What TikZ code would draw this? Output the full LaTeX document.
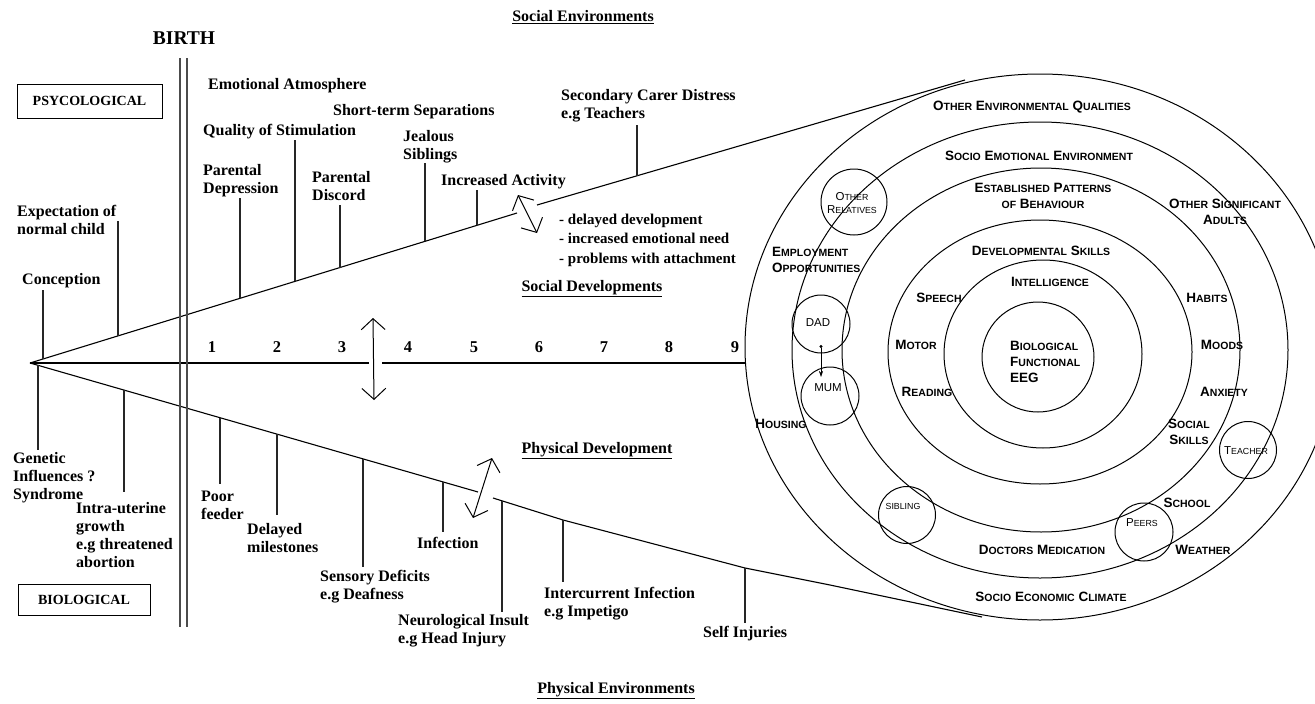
\documentclass[tikz,border=0pt]{standalone}
\usepackage{fontspec}
\setmainfont{Liberation Serif}
\newfontfamily\arialf{Liberation Sans}
\usetikzlibrary{arrows.meta,calc}
\newcommand\sm[1]{{\fontsize{10.5}{12}\selectfont #1}}
\newcommand\ssm[1]{{\fontsize{8.8}{10}\selectfont #1}}
\tikzset{
  lbl/.style={font=\fontsize{16}{18}\selectfont\bfseries, inner sep=0pt, align=left, anchor=west},
  head/.style={font=\fontsize{16}{18}\selectfont\bfseries, inner sep=0pt},
  num/.style={font=\fontsize{16.5}{18}\selectfont\bfseries, inner sep=0pt},
  box/.style={draw, line width=1pt, font=\fontsize{14}{16}\selectfont\bfseries, inner sep=0pt},
  cl/.style={font=\arialf\bfseries\fontsize{13.5}{16}\selectfont, inner sep=0pt, align=center},
  scl/.style={font=\arialf\fontsize{11.5}{13}\selectfont, inner sep=0pt, align=center},
  ln/.style={line width=1.1pt, black},
  tk/.style={line width=1.3pt, black!85},
  ring/.style={line width=1pt, black},
  small/.style={circle, draw, line width=1pt, inner sep=0pt},
  arr/.style={line width=1pt, {Straight Barb[length=11pt,width=24pt]}-{Straight Barb[length=11pt,width=24pt]}},
  birthl/.style={line width=1.6pt, black!70},
}
\begin{document}
\begin{tikzpicture}[x=1pt,y=-1pt]
\fill[white] (0,0) rectangle (1315,704);
\useasboundingbox (0,0) rectangle (1315,704);

% ---------- rings ----------
\begin{scope}
\clip (0,0) rectangle (1315,704);
\draw[ring] (1040,347) ellipse [x radius=295pt, y radius=273pt];
\end{scope}
\draw[ring] (1040,350) ellipse [x radius=248pt, y radius=228pt];
\draw[ring] (1041,350) ellipse [x radius=199pt, y radius=182pt];
\draw[ring] (1040,352) ellipse [x radius=152pt, y radius=132pt];
\draw[ring] (1043,354) ellipse [x radius=99pt, y radius=94pt];
\draw[ring] (1038,357) ellipse [x radius=56pt, y radius=55pt];

% small circles
\node[small, minimum size=66pt] (rel) at (854,202) {};
\node[small, minimum size=58pt] (dad) at (821,324) {};
\node[small, minimum size=58pt] (mum) at (830,396) {};
\node[small, minimum size=57pt] (sib) at (907,515) {};
\node[small, minimum size=57pt] (tea) at (1248,450) {};
\node[small, minimum size=58pt] (pee) at (1144,532) {};
\node[scl] (relt) at (852,203) {O\ssm{THER}\\R\ssm{ELATIVES}};
\node[scl] (dadt) at (818,323) {DAD};
\node[scl] (mumt) at (828,388) {MUM};
\node[scl] (sibt) at (903,506) {\ssm{SIBLING}};
\node[scl] (teat) at (1246,451) {T\ssm{EACHER}};
\node[scl] (peet) at (1142,523) {P\ssm{EERS}};
\coordinate (dm1) at (821,345);
\coordinate (dm2) at (821,377);
\draw[line width=0.6pt, {Circle[length=3pt]}-{Stealth[length=6pt,width=4pt]}] (dm1) -- (dm2);

% ring labels
\node[cl] (oeq) at (1032,107) {O\sm{THER} E\sm{NVIRONMENTAL} Q\sm{UALITIES}};
\node[cl] (see) at (1039,156) {S\sm{OCIO} E\sm{MOTIONAL} E\sm{NVIRONMENT}};
\node[cl] (epb) at (1043,196) {E\sm{STABLISHED} P\sm{ATTERNS}\\\sm{OF} B\sm{EHAVIOUR}};
\node[cl] (ds) at (1041,251) {D\sm{EVELOPMENTAL} S\sm{KILLS}};
\node[cl] (int) at (1050,282) {I\sm{NTELLIGENCE}};
\node[cl] (osa) at (1225,212) {O\sm{THER} S\sm{IGNIFICANT}\\A\sm{DULTS}};
\node[cl, anchor=west, align=left] (emp) at (772,260) {E\sm{MPLOYMENT}\\O\sm{PPORTUNITIES}};
\node[cl] (spe) at (939,298) {S\sm{PEECH}};
\node[cl] (hab) at (1207,298) {H\sm{ABITS}};
\node[cl] (mot) at (916,345) {M\sm{OTOR}};
\node[cl] (moo) at (1222,345) {M\sm{OODS}};
\node[cl, anchor=west, align=left] (bio) at (1010,362) {B\sm{IOLOGICAL}\\F\sm{UNCTIONAL}\\EEG};
\node[cl] (rea) at (927,392) {R\sm{EADING}};
\node[cl] (anx) at (1224,392) {A\sm{NXIETY}};
\node[cl] (hou) at (781,424) {H\sm{OUSING}};
\node[cl] (soc) at (1189,432) {S\sm{OCIAL}\\S\sm{KILLS}};
\node[cl] (sch) at (1187,503) {S\sm{CHOOL}};
\node[cl] (wea) at (1203,550) {W\sm{EATHER}};
\node[cl] (doc) at (1042,550) {D\sm{OCTORS} M\sm{EDICATION}};
\node[cl] (sec) at (1051,597) {S\sm{OCIO} E\sm{CONOMIC} C\sm{LIMATE}};

% ---------- timeline ----------
\coordinate (apex) at (30,363);
\coordinate (ax1) at (369,363);
\coordinate (ax2) at (382,363);
\coordinate (axe) at (745.5,363);
\draw[ln] (apex) -- (ax1);
\draw[ln] (ax2) -- (axe);
\coordinate (up1) at (517,213);
\coordinate (up2) at (537,205);
\coordinate (upe) at (965,80);
\draw[ln] (apex) -- (up1);
\draw[ln] (up2) -- (upe);
\coordinate (lo1) at (478,492);
\coordinate (lo2) at (493,498);
\coordinate (loe) at (982,617);
\draw[ln] (apex) -- (lo1);
\draw[ln] (lo2) -- (563,520) -- (745,568) -- (830,585) -- (loe);

% birth lines
\draw[birthl] (180,58) -- (180,627);
\draw[birthl] (187,58) -- (187,627);
\node[font=\fontsize{19.5}{22}\selectfont\bfseries, inner sep=0pt] (birth) at (184,38) {BIRTH};

% boxes
\node[box, minimum width=145pt, minimum height=34pt] (psy) at (89.5,101) {PSYCOLOGICAL};
\node[box, minimum width=132pt, minimum height=31pt] (biol) at (84,600) {BIOLOGICAL};

% ticks
\foreach \x/\a/\b in {43/290/359, 118/221/336, 240/198/298.3, 295/140/281.4, 340/205/267.5,
  425/163/241.3, 477/190/225.3, 637/125/175.8,
  38/365/450, 124/390/492, 220/417.7/484, 277/434/515, 363/459/567, 443/482/532,
  502/500.8/612, 563/520/582, 745/568/623}
  \draw[tk] (\x,\a) -- (\x,\b);

% arrows
\coordinate (ma1) at (373,318);
\coordinate (ma2) at (374,400);
\draw[arr] (ma1) -- (ma2);
\coordinate (ua1) at (518,195);
\coordinate (ua2) at (537,233);
\draw[arr] (ua1) -- (ua2);
\coordinate (la1) at (492,458);
\coordinate (la2) at (473,518);
\draw[arr] (la1) -- (la2);

% numbers
\foreach \n/\x in {1/212,2/277,3/342,4/408,5/474,6/539,7/604,8/669,9/735}
  \node[num] (n\n) at (\x,347) {\n};

% headings
\node[head] (soce) at (583,17) {\underline{Social Environments}};
\node[head] (socd) at (592,289) {\underline{Social Developments}};
\node[head] (phyd) at (597,451) {\underline{Physical Development}};
\node[head] (phye) at (616,691) {\underline{Physical Environments}};

% upper labels
\node[lbl] (exp) at (17,220) {Expectation of\\normal child};
\node[lbl] (con) at (22,281) {Conception};
\node[lbl] (emo) at (208,86) {Emotional Atmosphere};
\node[lbl] (qua) at (203,132) {Quality of Stimulation};
\node[lbl] (sts) at (333,112) {Short-term Separations};
\node[lbl] (pdep) at (203,181) {Parental\\Depression};
\node[lbl] (pdis) at (312,186) {Parental\\Discord};
\node[lbl] (jea) at (403,147) {Jealous\\Siblings};
\node[lbl] (inc) at (441,182) {Increased Activity};
\node[lbl] (scd) at (561,106) {Secondary Carer Distress\\e.g Teachers};
\node[lbl, font=\fontsize{15}{19.5}\selectfont\bfseries] (del) at (559,240) {- delayed development\\- increased emotional need\\- problems with attachment};

% lower labels
\node[lbl] (gen) at (13,478) {Genetic\\Influences ?\\Syndrome};
\node[lbl] (iug) at (76,535) {Intra-uterine\\growth\\e.g threatened\\abortion};
\node[lbl] (poor) at (201,505) {Poor\\feeder};
\node[lbl] (dely) at (247,538) {Delayed\\milestones};
\node[lbl] (sen) at (320,587) {Sensory Deficits\\e.g Deafness};
\node[lbl] (inf) at (417,543) {Infection};
\node[lbl] (neu) at (398,631) {Neurological Insult\\e.g Head Injury};
\node[lbl] (icf) at (544,604) {Intercurrent Infection\\e.g Impetigo};
\node[lbl] (self) at (703,634) {Self Injuries};
\end{tikzpicture}
\end{document}
